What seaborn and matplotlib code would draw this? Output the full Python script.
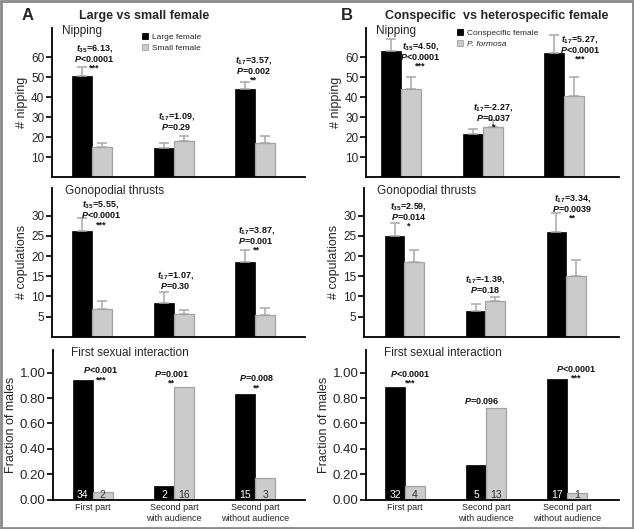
import numpy as np
import pandas as pd
import matplotlib
matplotlib.use("Agg")
import matplotlib.pyplot as plt
from matplotlib.patches import Rectangle
import seaborn as sns

# categories on the x axis
parts = ["First part", "Second part\nwith audience", "Second part\nwithout audience"]

# A: large vs small female
large_nip = [50.6, 14.7, 43.8]
large_nip_se = [4.4, 2.1, 3.5]
small_nip = [15.2, 18.2, 16.8]
small_nip_se = [2.0, 2.1, 3.9]

large_cop = [26.3, 8.4, 18.6]
large_cop_se = [3.2, 2.6, 2.9]
small_cop = [6.9, 5.6, 5.5]
small_cop_se = [2.0, 1.0, 1.5]

large_frac = [0.94, 0.11, 0.83]
small_frac = [0.06, 0.89, 0.17]
large_n = [34, 2, 15]
small_n = [2, 16, 3]

# B: conspecific vs heterospecific female
con_nip = [63.2, 21.5, 61.8]
con_nip_se = [6.0, 2.7, 9.2]
het_nip = [43.9, 25.2, 40.5]
het_nip_se = [6.1, 3.4, 9.3]

con_cop = [24.9, 6.4, 25.9]
con_cop_se = [3.4, 1.6, 4.7]
het_cop = [18.5, 8.9, 15.0]
het_cop_se = [3.1, 1.0, 4.0]

con_frac = [0.89, 0.27, 0.95]
het_frac = [0.11, 0.72, 0.05]
con_n = [32, 5, 17]
het_n = [4, 13, 1]

# statistics printed above the bars
a_nip_notes = ["$t_{35}$=6.13,\n$P$<0.0001\n***", "$t_{17}$=1.09,\n$P$=0.29", "$t_{17}$=3.57,\n$P$=0.002\n**"]
b_nip_notes = ["$t_{35}$=4.50,\n$P$<0.0001\n***", "$t_{17}$=-2.27,\n$P$=0.037\n*", "$t_{17}$=5.27,\n$P$<0.0001\n***"]
a_cop_notes = ["$t_{35}$=5.55,\n$P$<0.0001\n***", "$t_{17}$=1.07,\n$P$=0.30", "$t_{17}$=3.87,\n$P$=0.001\n**"]
b_cop_notes = ["$t_{35}$=2.59,\n$P$=0.014\n*", "$t_{17}$=-1.39,\n$P$=0.18", "$t_{17}$=3.34,\n$P$=0.0039\n**"]
a_frac_notes = ["$P$<0.001\n***", "$P$=0.001\n**", "$P$=0.008\n**"]
b_frac_notes = ["$P$<0.0001\n***", "$P$=0.096", "$P$<0.0001\n***"]

BLACK = "#000000"
GRAY = "#cbcbcb"
GRAY_EDGE = "#a3a3a3"
ERR = "#a8a8a8"

sns.set_style("white")
plt.rcParams['font.family'] = ['Liberation Sans', 'DejaVu Sans']
plt.rcParams['mathtext.fontset'] = 'custom'
plt.rcParams['mathtext.it'] = 'Liberation Sans:italic:bold'
plt.rcParams['mathtext.rm'] = 'Liberation Sans:bold'
plt.rcParams['mathtext.bf'] = 'Liberation Sans:bold'

W, H = 634, 529
fig = plt.figure(figsize=(W / 100, H / 100), dpi=100)


def make_ax(left, top, right, bottom):
    # axes from pixel box
    return fig.add_axes([left / W, 1 - bottom / H, (right - left) / W, (bottom - top) / H])


def draw_panel(ax, v1, v2, names, se1=None, se2=None, notes=None, note_dx=None, note_y=None,
               xlim=(-0.49, 2.61), ylim=(0, 74.5), legend=False):
    df = pd.DataFrame({
        "part": parts * 2,
        "value": list(v1) + list(v2),
        "female": [names[0]] * 3 + [names[1]] * 3,
    })
    sns.barplot(data=df, x="part", y="value", hue="female", palette=[BLACK, GRAY],
                width=0.49, errorbar=None, saturation=1, ax=ax, legend=legend)
    # edge colours of the bars
    for b in ax.containers[0]:
        b.set_edgecolor(BLACK)
        b.set_linewidth(0.5)
    for b in ax.containers[1]:
        b.set_edgecolor(GRAY_EDGE)
        b.set_linewidth(0.9)
    # upper error bars only
    for cont, se in zip(ax.containers[:2], [se1, se2]):
        if se is None:
            continue
        xs = [b.get_x() + b.get_width() / 2 for b in cont]
        ys = [b.get_height() for b in cont]
        ax.errorbar(xs, ys, yerr=[np.zeros(3), se], fmt="none", ecolor=ERR,
                    elinewidth=1.1, capsize=3.6, capthick=1.1, zorder=1)
    if notes is not None:
        for i, t in enumerate(notes):
            ax.text(i + note_dx[i], note_y[i], t, ha="center", va="top", fontsize=6.5,
                    fontweight="bold", linespacing=1.0, color="#111111")
    ax.set_xlim(*xlim)
    ax.set_ylim(*ylim)
    ax.set_xlabel("")
    sns.despine(ax=ax)
    for s in ["left", "bottom"]:
        ax.spines[s].set_linewidth(1.3)
        ax.spines[s].set_color("black")
    ax.tick_params(axis="y", length=4, width=1.2, color="black", labelsize=8.5, pad=1.5, left=True)


def heading(ax, text, x0):
    # small heading placed just under the top of the y axis
    ax.annotate(text, xy=(x0, 1.0), xycoords="axes fraction", xytext=(0, -2.5),
                textcoords="offset points", fontsize=8.5, va="center")


# row 1: nipping
ax1 = make_ax(52, 28, 305, 177)
draw_panel(ax1, large_nip, small_nip, ["Large female", "Small female"], large_nip_se, small_nip_se,
           a_nip_notes, [0.03, 0.03, -0.02], [67.5, 33.5, 61.5], legend=True)
ax2 = make_ax(366, 28, 619, 177)
draw_panel(ax2, con_nip, het_nip, ["Conspecific female", "P. formosa"], con_nip_se, het_nip_se,
           b_nip_notes, [0.24, 0.13, 0.19], [68.5, 38.0, 72.0], xlim=(-0.43, 2.67), legend=True)
for ax in [ax1, ax2]:
    ax.set_yticks([10, 20, 30, 40, 50, 60])
    ax.set_ylabel("# nipping", fontsize=9, labelpad=2)
    ax.set_xticks([])
    heading(ax, "Nipping", 0.04)

# legends
for ax, x0, y0 in [(ax1, 0.355, 0.965), (ax2, 0.36, 0.99)]:
    leg = ax.legend(loc="upper left", bbox_to_anchor=(x0, y0), frameon=False,
                    fontsize=6, handlelength=0.7, handleheight=0.7, handletextpad=0.5,
                    borderpad=0, borderaxespad=0, labelspacing=0.35)
    for h in leg.legend_handles:
        h.set_edgecolor(GRAY_EDGE if h.get_facecolor()[0] > 0.5 else BLACK)
        h.set_linewidth(0.6)
ax2.get_legend().get_texts()[1].set_fontstyle("italic")

# row 2: gonopodial thrusts
ax3 = make_ax(52, 188, 305, 336.7)
draw_panel(ax3, large_cop, small_cop, ["Large female", "Small female"], large_cop_se, small_cop_se,
           a_cop_notes, [0.11, 0.02, 0.01], [34.4, 16.8, 28.0], ylim=(0, 36.9))
ax4 = make_ax(364, 188, 619, 336.7)
draw_panel(ax4, con_cop, het_cop, ["Conspecific female", "P. formosa"], con_cop_se, het_cop_se,
           b_cop_notes, [0.05, 0.0, 0.07], [34.0, 15.9, 36.0], xlim=(-0.5, 2.65), ylim=(0, 36.9))
for ax in [ax3, ax4]:
    ax.set_yticks([5, 10, 15, 20, 25, 30])
    ax.set_ylabel("# copulations", fontsize=9, labelpad=2)
    ax.set_xticks([])
    heading(ax, "Gonopodial thrusts", 0.05)

# row 3: first sexual interaction
ax5 = make_ax(53, 350, 305, 499.5)
draw_panel(ax5, large_frac, small_frac, ["Large female", "Small female"], notes=a_frac_notes,
           note_dx=[0.10, -0.03, 0.01], note_y=[1.06, 1.03, 0.995], ylim=(0, 1.18))
ax6 = make_ax(366, 350, 619, 499.5)
draw_panel(ax6, con_frac, het_frac, ["Conspecific female", "P. formosa"], notes=b_frac_notes,
           note_dx=[0.07, -0.05, 0.11], note_y=[1.03, 0.82, 1.07], xlim=(-0.48, 2.64), ylim=(0, 1.18))
for ax, n1, n2 in [(ax5, large_n, small_n), (ax6, con_n, het_n)]:
    ax.set_yticks([0, 0.2, 0.4, 0.6, 0.8, 1.0])
    ax.set_yticklabels(["%.2f" % v for v in [0, 0.2, 0.4, 0.6, 0.8, 1.0]])
    ax.tick_params(axis="y", labelsize=9.5)
    ax.set_ylabel("Fraction of males", fontsize=9, labelpad=2)
    ax.set_xticks(range(3))
    ax.set_xticklabels(parts, fontsize=6.5, linespacing=1.25)
    ax.tick_params(axis="x", length=0, pad=2.5)
    heading(ax, "First sexual interaction", 0.07)
    # sample sizes inside the bars
    for cont, ns, col in [(ax.containers[0], n1, "white"), (ax.containers[1], n2, "#333333")]:
        for b, n in zip(cont, ns):
            ax.text(b.get_x() + b.get_width() / 2, 0.035, str(n), ha="center", va="center",
                    fontsize=7.5, color=col)

# panel headings
fig.text(27.7 / W, 1 - 15 / H, "A", fontsize=12, fontweight="bold", ha="center", va="center",
         family=["Liberation Sans Narrow", "Liberation Sans"])
fig.text(347 / W, 1 - 15 / H, "B", fontsize=12, fontweight="bold", ha="center", va="center",
         family=["Liberation Sans Narrow", "Liberation Sans"])
fig.text(144 / W, 1 - 16 / H, "Large vs small female", fontsize=9, fontweight="bold",
         ha="center", va="center")
fig.text(497 / W, 1 - 16 / H, "Conspecific  vs heterospecific female", fontsize=9,
         fontweight="bold", ha="center", va="center")

# grey frame round the figure
fig.add_artist(Rectangle((0.0015, 0.002), 0.997, 0.996, transform=fig.transFigure, fill=False,
                         edgecolor="#8a8a8a", linewidth=2))

fig.savefig("out.png", dpi=100)
